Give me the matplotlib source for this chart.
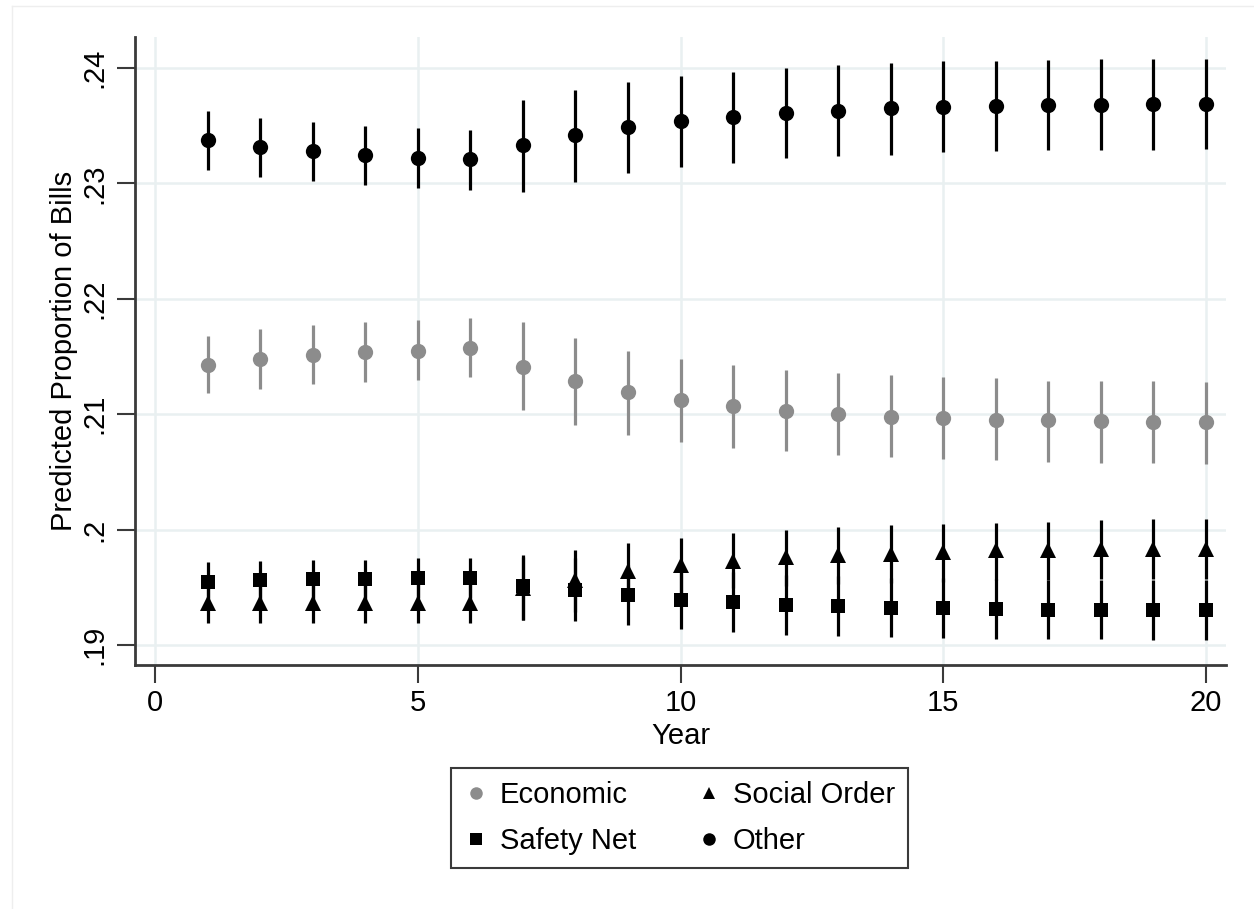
import matplotlib.pyplot as plt
from matplotlib.lines import Line2D
import numpy as np

plt.rcParams['font.family'] = ['Liberation Sans', 'DejaVu Sans']

years = list(range(1, 21))

# Economic (gray circles): estimate, lower, upper
econ = [.2143, .2148, .2151, .2154, .2155, .2157, .2141, .2129, .2119, .2112,
        .2107, .2103, .2100, .2098, .2097, .2095, .2095, .2094, .2093, .2093]
econ_lo = [.2118, .2122, .2126, .2128, .2130, .2132, .2104, .2091, .2082, .2076,
           .2071, .2068, .2065, .2063, .2061, .2060, .2059, .2058, .2058, .2057]
econ_hi = [.2168, .2174, .2177, .2180, .2182, .2183, .2180, .2166, .2155, .2148,
           .2143, .2138, .2136, .2134, .2132, .2131, .2129, .2129, .2129, .2128]

# Safety Net (black squares)
safety = [.1955, .1956, .1957, .1957, .1958, .1958, .1951, .1948, .1943, .1939,
          .1937, .1935, .1934, .1932, .1932, .1931, .1930, .1930, .1930, .1930]
safety_lo = [.1938, .1939, .1940, .1940, .1941, .1941, .1922, .1921, .1917, .1914,
             .1911, .1909, .1908, .1907, .1906, .1905, .1905, .1905, .1904, .1904]
safety_hi = [.1972, .1973, .1974, .1974, .1975, .1975, .1978, .1975, .1969, .1965,
             .1963, .1961, .1960, .1958, .1958, .1957, .1956, .1956, .1956, .1956]

# Social Order (black triangles)
social = [.1936, .1936, .1936, .1936, .1936, .1936, .1949, .1956, .1964, .1969,
          .1973, .1976, .1978, .1979, .1981, .1982, .1982, .1983, .1983, .1983]
social_lo = [.1919, .1919, .1919, .1919, .1919, .1919, .1922, .1929, .1940, .1945,
             .1949, .1951, .1953, .1954, .1955, .1956, .1956, .1957, .1957, .1957]
social_hi = [.1953, .1953, .1953, .1953, .1953, .1953, .1976, .1982, .1988, .1993,
             .1997, .2000, .2002, .2004, .2005, .2006, .2007, .2008, .2009, .2009]

# Other (black circles)
other = [.2338, .2332, .2328, .2325, .2322, .2321, .2333, .2342, .2349, .2354,
         .2358, .2361, .2363, .2365, .2366, .2367, .2368, .2368, .2369, .2369]
other_lo = [.2312, .2306, .2302, .2299, .2296, .2294, .2293, .2301, .2309, .2314,
            .2318, .2322, .2324, .2325, .2327, .2328, .2329, .2329, .2329, .2330]
other_hi = [.2363, .2357, .2353, .2350, .2348, .2346, .2372, .2381, .2388, .2393,
            .2397, .2400, .2403, .2404, .2406, .2406, .2407, .2408, .2408, .2408]

gray = '#8c8c8c'
grid_col = '#e9f0f1'
axis_col = '#3a3a3a'

fig = plt.figure(figsize=(12.54, 9.09), dpi=100)
ax = fig.add_axes([135 / 1254, 1 - 665 / 909, (1226 - 135) / 1254, (665 - 37) / 909])

def draw(est, lo, hi, color, marker, ms):
    x = np.array(years)
    est = np.array(est)
    ax.vlines(x, lo, hi, color=color, lw=2.3, zorder=3)
    ax.plot(x, est, linestyle='none', marker=marker, color=color, ms=ms,
            markeredgewidth=0, zorder=4)

draw(econ, econ_lo, econ_hi, gray, 'o', 11)
draw(social, social_lo, social_hi, 'black', '^', 11)
draw(safety, safety_lo, safety_hi, 'black', 's', 10)
draw(other, other_lo, other_hi, 'black', 'o', 11)

ax.set_xlim(-0.38, 20.38)
ax.set_ylim(.18827, .24269)
ax.set_xticks([0, 5, 10, 15, 20])
ax.set_yticks([.19, .2, .21, .22, .23, .24])
ax.set_yticklabels(['.19', '.2', '.21', '.22', '.23', '.24'], rotation=90, va='center')
ax.tick_params(axis='both', labelsize=21, length=13, width=1.5, color=axis_col,
               labelcolor='black', pad=4)
ax.tick_params(axis='y', pad=6)
ax.grid(True, color=grid_col, lw=1.8, zorder=0)
ax.set_axisbelow(True)

for side in ['top', 'right']:
    ax.spines[side].set_visible(False)
for side in ['left', 'bottom']:
    ax.spines[side].set_color(axis_col)
    ax.spines[side].set_linewidth(2)

ax.set_xlabel('Year', fontsize=21, labelpad=4)
ax.set_ylabel('Predicted Proportion of Bills', fontsize=21, labelpad=2)

handles = [
    Line2D([], [], linestyle='none', marker='o', color=gray, ms=9, markeredgewidth=0),
    Line2D([], [], linestyle='none', marker='s', color='black', ms=9, markeredgewidth=0),
    Line2D([], [], linestyle='none', marker='^', color='black', ms=9, markeredgewidth=0),
    Line2D([], [], linestyle='none', marker='o', color='black', ms=9, markeredgewidth=0),
]
labels = ['Economic', 'Safety Net', 'Social Order', 'Other']
leg = fig.legend(handles, labels, loc='center', bbox_to_anchor=(0.542, 0.1),
                 ncol=2, fontsize=21, fancybox=False, framealpha=1,
                 edgecolor=axis_col, handlelength=0.8, handletextpad=0.42,
                 columnspacing=2.1, labelspacing=0.6, borderpad=0.45)
leg.get_frame().set_linewidth(1.5)

# faint outer graph-region border (top and left edges)
fig.add_artist(Line2D([12 / 1254, 1], [1 - 6 / 909, 1 - 6 / 909], color='#eeeeee', lw=1))
fig.add_artist(Line2D([12 / 1254, 12 / 1254], [0, 1 - 6 / 909], color='#eeeeee', lw=1))

fig.savefig('out.png', dpi=100)
